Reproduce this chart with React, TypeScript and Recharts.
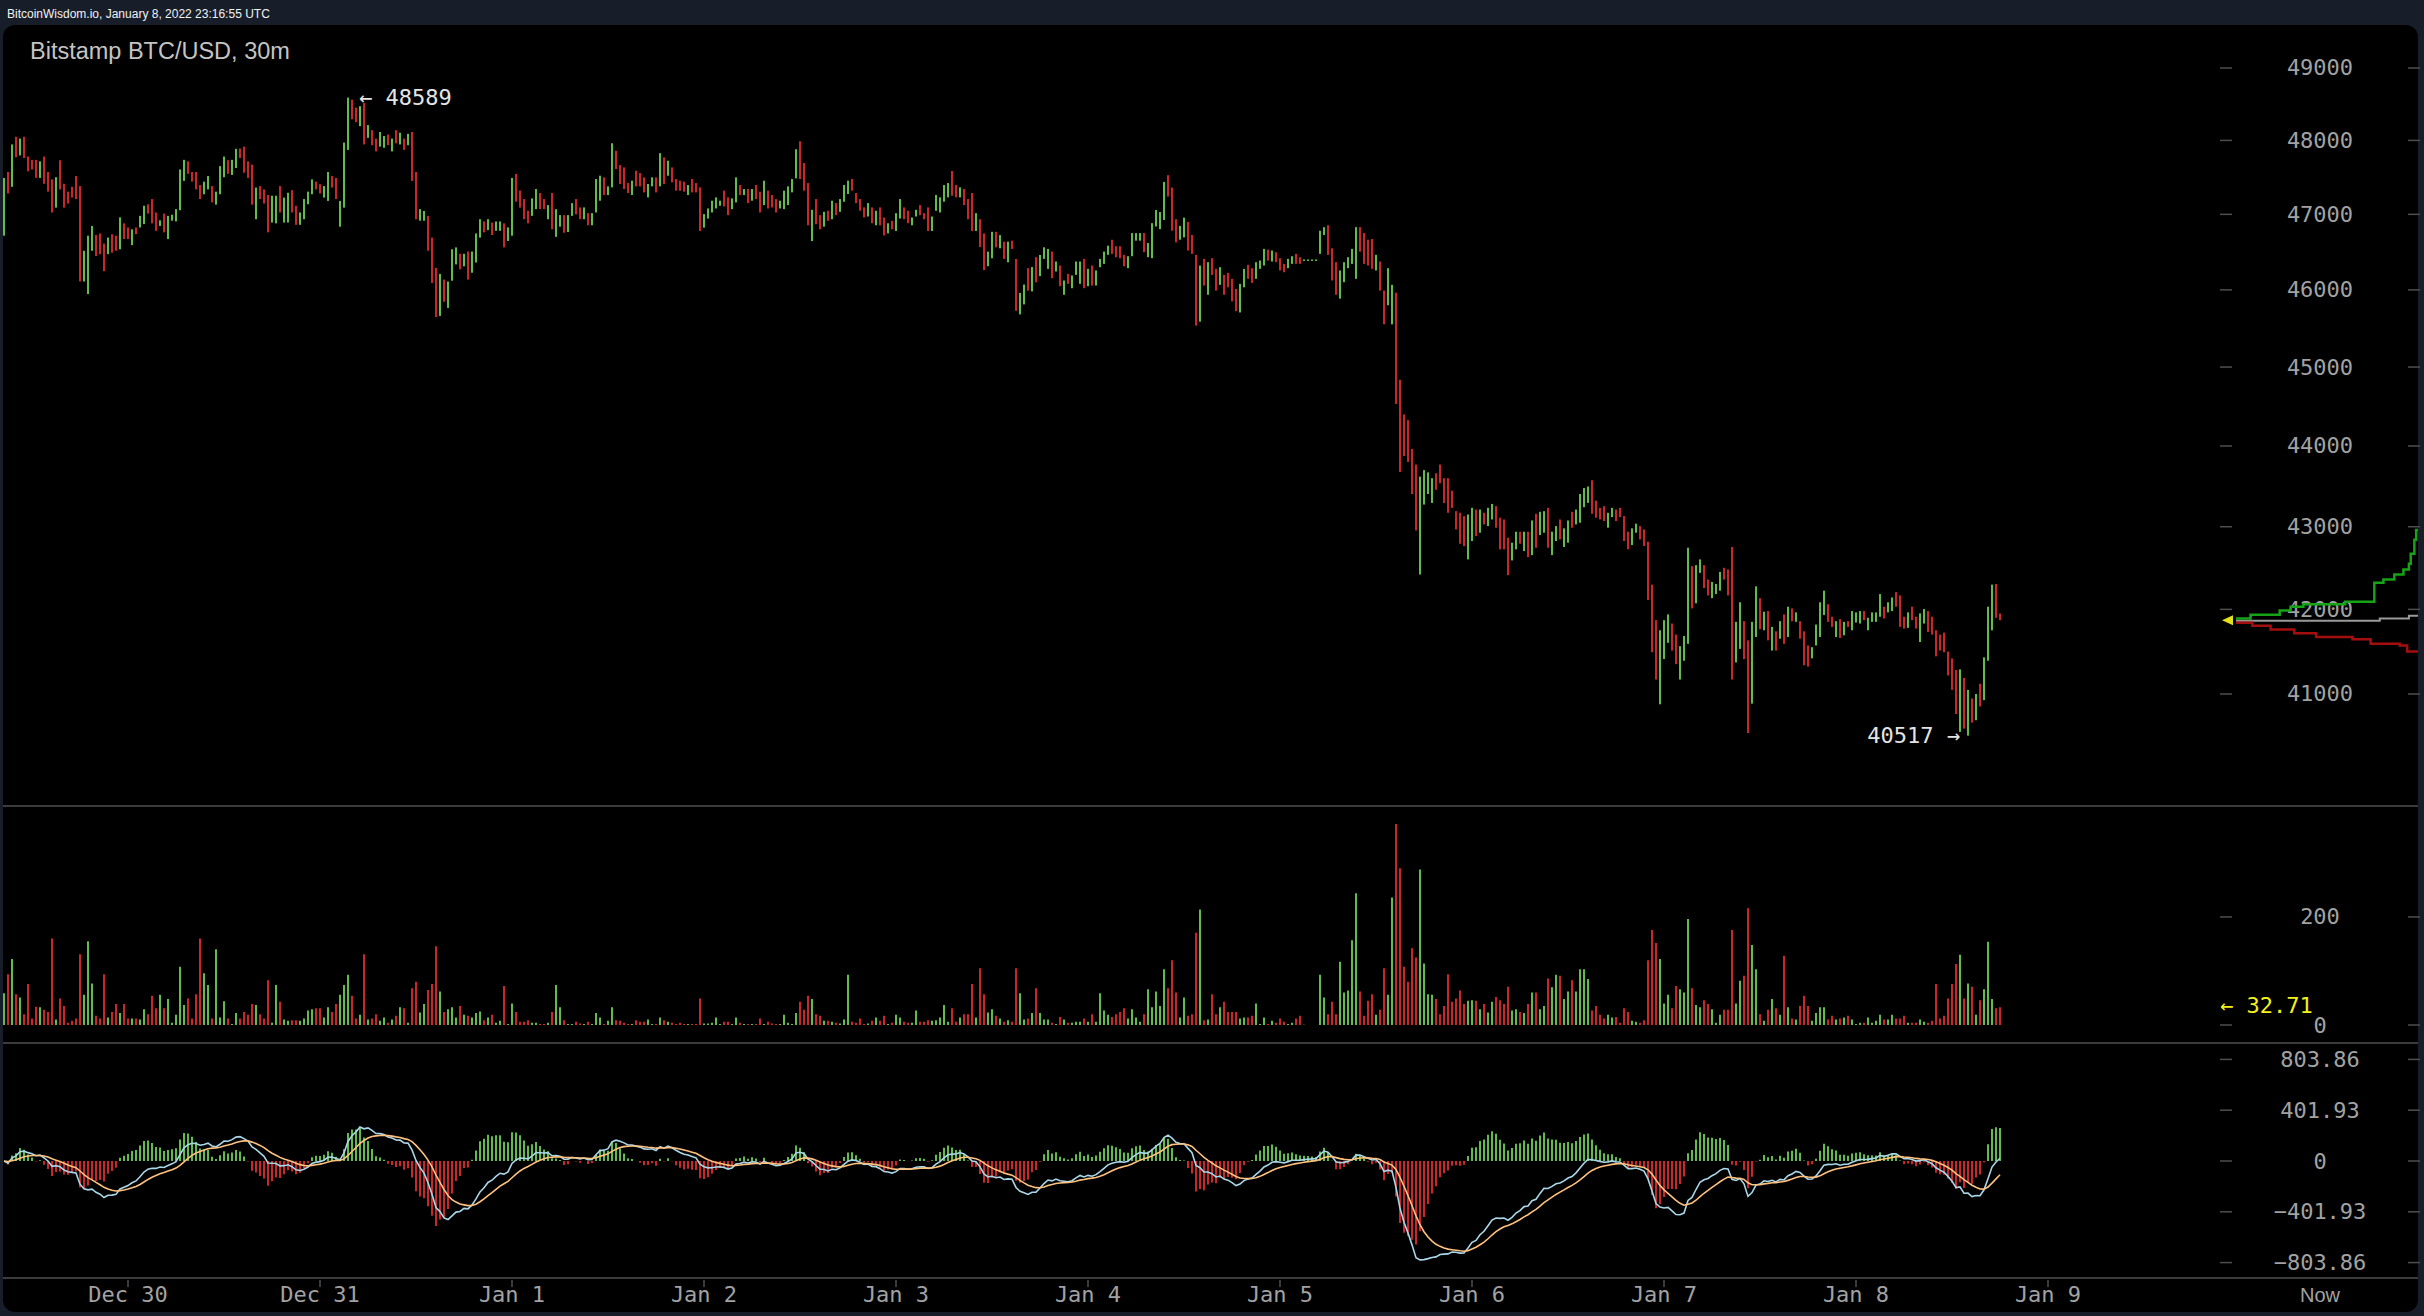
import { ComposedChart, LineChart, Bar, Line, XAxis, YAxis, Cell, ReferenceDot } from 'recharts';

// colours
const BG = '#171d29';
const GREEN = '#62bb4a';
const RED = '#c9272a';
const DIF_COLOR = '#a9d7ea';
const DEA_COLOR = '#ffc27e';
const TICK = '#a2a2a2';
const DASH = '#4e4e4e';
const MONO = '"DejaVu Sans Mono", monospace';
const SANS = '"Liberation Sans", Arial, sans-serif';

// 30m candles, Dec 29 08:30 .. Jan 8 18:00 (UTC-5)
const opens = [
  46715, 47570, 47370, 48050, 47795, 48050, 47780, 47735, 47735, 47490,
  47780, 47570, 47470, 47090, 47730, 47410, 47305, 47370, 47515, 47380,
  46110, 45945, 46515, 46725, 46745, 46610, 46470, 46735, 46715, 46535,
  46880, 46825, 46590, 46825, 46825, 46870, 47135, 47205, 47025, 46845,
  47010, 46670, 46915, 46905, 47055, 47450, 47715, 47570, 47570, 47395,
  47270, 47335, 47380, 47130, 47270, 47500, 47730, 47530, 47625, 47890,
  47915, 47715, 47670, 46935, 47380, 47335, 47260, 46890, 46880, 47380,
  46890, 46890, 47325, 47115, 46860, 46935, 47135, 47270, 47440, 47405,
  47225, 47180, 47515, 47490, 46835, 47090, 47870, 48560, 48450, 48195,
  48515, 48035, 48140, 48025, 47915, 47900, 48080, 47850, 48140, 47945,
  48025, 47935, 48115, 47570, 46915, 46915, 46980, 46690, 46290, 45660,
  46135, 45765, 46120, 46335, 46475, 46310, 46505, 46225, 46360, 46690,
  46905, 46790, 46890, 46780, 46780, 46880, 46645, 46715, 47545, 47320,
  47205, 47048, 46980, 47070, 47286, 47205, 46935, 47286, 46700, 46836,
  46990, 46764, 46980, 47205, 47093, 46935, 47016, 46854, 47025, 47183,
  47498, 47259, 47363, 47858, 47664, 47633, 47421, 47259, 47588, 47556,
  47498, 47228, 47376, 47498, 47376, 47768, 47520, 47633, 47475, 47453,
  47439, 47259, 47475, 47421, 47363, 46823, 46944, 47025, 47079, 47115,
  47318, 47228, 47070, 47160, 47394, 47259, 47340, 47183, 47394, 47304,
  47124, 47318, 47259, 47205, 47079, 47070, 47124, 47295, 47484, 47988,
  47691, 47421, 46643, 47205, 46989, 46836, 47048, 46935, 47151, 47034,
  47169, 47273, 47475, 47286, 47205, 47093, 46971, 47093, 46854, 47093,
  46958, 46746, 46913, 46778, 46944, 47093, 47048, 46854, 46971, 47124,
  47016, 47093, 46778, 47048, 47025, 47169, 47228, 47583, 47394, 47228,
  47340, 47205, 47286, 46778, 46935, 46746, 46311, 46416, 46767, 46548,
  46636, 46363, 46649, 46407, 45680, 45810, 46285, 45980, 46430, 46180,
  46408, 46276, 46504, 46241, 46320, 45936, 46210, 46022, 46197, 46079,
  46408, 46048, 46320, 46057, 46298, 46342, 46461, 46662, 46575, 46575,
  46461, 46285, 46443, 46649, 46649, 46750, 46430, 46417, 46838, 46803,
  46925, 47527, 47360, 46934, 46662, 46693, 46899, 46724, 46461, 45585,
  46408, 45936, 46417, 46276, 46066, 46197, 46224, 46145, 46013, 45705,
  46034, 46329, 46285, 46145, 46276, 46320, 46531, 46373, 46496, 46417,
  46342, 46285, 46342, 46474, 46430, 46400, 46400, 46400, 46400, 46474,
  46724, 46855, 46548, 46364, 45885, 46101, 46285, 46342, 46145, 46829,
  46750, 46662, 46671, 46255, 46373, 45991, 45799, 45551, 45962, 44838,
  44397, 44325, 43963, 43768, 42419, 43272, 43402, 43292, 43659, 43768,
  43598, 43598, 43443, 43191, 43171, 43130, 42602, 42825, 43211, 42927,
  43171, 43008, 43089, 43252, 43110, 43089, 42866, 42589, 42724, 42939,
  42703, 42939, 42654, 43159, 42898, 42927, 43232, 42654, 42825, 43089,
  42752, 42805, 43183, 43028, 43049, 43240, 43293, 43573, 43321, 43232,
  43252, 42988, 43118, 43211, 43232, 43130, 42939, 42776, 42927, 43008,
  42967, 42817, 42297, 41871, 40880, 41410, 41602, 41831, 41699, 41169,
  41390, 41590, 42520, 42073, 42439, 42532, 42358, 42134, 42183, 42224,
  42500, 42480, 42752, 41370, 41530, 41859, 41631, 40888, 41671, 42134,
  41751, 41980, 41510, 41739, 41651, 41940, 41671, 42012, 41851, 41859,
  41739, 41570, 41418, 41570, 41671, 41932, 42061, 41912, 41671, 41883,
  41691, 41859, 41751, 41843, 41831, 41980, 41751, 41851, 41851, 41912,
  42032, 41964, 41980, 42207, 42167, 41912, 41779, 42032, 41912, 41611,
  41831, 41980, 41912, 41751, 41699, 41723, 41498, 41418, 41281, 40560,
  41189, 40517, 40948, 40695, 41120, 40928, 41390, 41751, 42305, 41950,
];

const closes = [
  47490, 47280, 47945, 47770, 48025, 47760, 47580, 47605, 47490, 47715,
  47410, 47305, 47025, 47500, 47335, 47090, 47145, 47225, 47205, 46110,
  46515, 46715, 46845, 46445, 46470, 46245, 46690, 46490, 46515, 46960,
  46670, 46670, 46800, 46735, 46980, 47115, 47010, 46880, 46780, 46920,
  46760, 46980, 46995, 47070, 47605, 47735, 47545, 47440, 47335, 47205,
  47440, 47515, 47160, 47305, 47650, 47780, 47545, 47735, 47885, 47760,
  47560, 47490, 47130, 47360, 47205, 47145, 46760, 47250, 47250, 47025,
  47225, 47290, 47025, 46860, 47025, 47205, 47305, 47470, 47335, 47280,
  47380, 47570, 47360, 47205, 47180, 47970, 48589, 48290, 48250, 48470,
  47945, 48210, 47935, 47850, 48115, 48060, 47935, 48025, 47960, 48105,
  47870, 48090, 47450, 46935, 47070, 47045, 46515, 46090, 45645, 46210,
  45845, 46110, 46535, 46560, 46270, 46475, 46135, 46505, 46745, 46935,
  46760, 46935, 46725, 46905, 46905, 46560, 46825, 47490, 47170, 47090,
  46935, 46880, 47214, 47340, 47070, 47070, 47124, 46800, 47070, 46990,
  46755, 46990, 47150, 47000, 46935, 47093, 46854, 47016, 47475, 47520,
  47259, 47376, 47961, 47610, 47408, 47340, 47286, 47453, 47376, 47376,
  47295, 47408, 47498, 47295, 47826, 47408, 47723, 47430, 47318, 47318,
  47304, 47394, 47295, 47295, 46778, 47003, 47079, 47183, 47228, 47183,
  47106, 46989, 47214, 47498, 47259, 47340, 47151, 47340, 47205, 47025,
  47453, 47079, 47093, 47025, 47183, 47318, 47376, 47475, 47880, 47475,
  47318, 46854, 47061, 46868, 46800, 47034, 46913, 47183, 46989, 47205,
  47394, 47453, 47318, 47151, 47048, 46958, 47151, 46881, 47048, 46854,
  46719, 46881, 46800, 47016, 47205, 46935, 46881, 46958, 47061, 46989,
  46935, 46778, 46971, 47259, 47228, 47394, 47421, 47250, 47228, 47363,
  47124, 46935, 46778, 47016, 46566, 46260, 46504, 46767, 46561, 46723,
  46407, 46636, 46539, 45727, 45960, 46070, 45990, 46300, 46100, 46460,
  46561, 46540, 46153, 46373, 46048, 46123, 46079, 46189, 46373, 46373,
  46022, 46276, 46057, 46255, 46408, 46504, 46583, 46474, 46430, 46417,
  46311, 46443, 46750, 46750, 46750, 46496, 46618, 46882, 47058, 47031,
  47436, 47239, 46781, 46627, 46846, 46956, 46518, 46474, 45534, 46320,
  46057, 46364, 46197, 45991, 46298, 45936, 46034, 45850, 45722, 46079,
  46276, 46145, 46092, 46364, 46386, 46540, 46386, 46518, 46364, 46255,
  46232, 46408, 46443, 46342, 46342, 46400, 46400, 46400, 46400, 46781,
  46829, 46461, 46123, 45936, 46255, 46364, 46430, 46540, 46829, 46504,
  46342, 46320, 46276, 46461, 45991, 45551, 46285, 46066, 44530, 43675,
  43874, 43801, 43402, 42955, 43618, 43699, 43671, 43598, 43455, 43537,
  43292, 43171, 43231, 42967, 42793, 42764, 43150, 43232, 42886, 43211,
  43028, 43232, 43280, 42988, 42724, 42724, 42411, 42805, 42939, 42793,
  42939, 42630, 43077, 42744, 43183, 43191, 42744, 42939, 43008, 42846,
  42980, 43077, 42988, 43211, 43403, 43476, 43496, 43159, 43110, 43089,
  43069, 43171, 43232, 43069, 43118, 42825, 42724, 42980, 43037, 42846,
  42764, 42113, 41490, 41169, 41751, 41871, 41940, 41510, 41350, 41562,
  41683, 42744, 42012, 42532, 42602, 42256, 42167, 42329, 42305, 42451,
  42358, 42167, 41169, 41851, 42085, 41410, 40546, 41851, 42276, 41763,
  41972, 41631, 41791, 41510, 41859, 41590, 42032, 41859, 41964, 41651,
  41338, 41321, 41550, 41819, 42085, 42224, 41851, 41791, 41859, 41659,
  41851, 41791, 41980, 41964, 41980, 41871, 41900, 41964, 41964, 42183,
  41891, 42085, 42142, 42032, 41791, 41771, 41964, 41871, 41771, 41952,
  42004, 41731, 41699, 41442, 41510, 41490, 41217, 41048, 40767, 41289,
  40598, 41048, 40667, 41000, 40855, 41430, 42032, 42297, 41900, 41870,
];

// BTC traded per candle
const volumes = [
  59, 94, 122, 57, 51, 20, 76, 12, 34, 33,
  28, 24, 160, 10, 49, 35, 4, 8, 12, 131,
  56, 155, 77, 17, 12, 94, 14, 24, 39, 22,
  39, 12, 12, 12, 10, 29, 20, 54, 31, 56,
  31, 48, 4, 19, 108, 37, 49, 12, 57, 160,
  96, 74, 12, 140, 14, 44, 12, 2, 22, 12,
  24, 19, 39, 37, 20, 12, 83, 4, 74, 43,
  10, 8, 9, 9, 8, 12, 27, 29, 31, 31,
  14, 33, 24, 39, 56, 74, 93, 54, 12, 19,
  131, 10, 12, 20, 8, 14, 4, 10, 17, 33,
  31, 4, 68, 80, 23, 39, 65, 76, 146, 62,
  24, 29, 33, 14, 35, 19, 17, 14, 22, 25,
  9, 14, 19, 4, 8, 72, 2, 40, 24, 6,
  6, 9, 4, 4, 2, 2, 4, 24, 74, 33,
  9, 2, 2, 6, 3, 2, 6, 2, 22, 14,
  2, 8, 33, 9, 8, 4, 2, 2, 9, 6,
  6, 10, 2, 2, 14, 9, 6, 4, 2, 4,
  2, 2, 2, 2, 49, 3, 3, 4, 14, 2,
  6, 6, 2, 14, 4, 2, 2, 2, 2, 12,
  2, 6, 3, 2, 2, 19, 4, 2, 22, 43,
  28, 54, 48, 20, 17, 8, 8, 6, 4, 3,
  10, 93, 6, 4, 12, 2, 3, 8, 14, 8,
  17, 2, 4, 19, 14, 6, 4, 4, 27, 6,
  6, 9, 8, 9, 14, 37, 6, 31, 6, 14,
  20, 20, 76, 14, 105, 57, 23, 29, 17, 12,
  6, 9, 6, 105, 59, 10, 12, 22, 68, 22,
  10, 10, 4, 2, 15, 10, 4, 4, 6, 6,
  12, 6, 20, 6, 59, 27, 19, 15, 20, 24,
  31, 12, 29, 14, 6, 20, 66, 33, 62, 35,
  103, 68, 120, 60, 14, 51, 17, 20, 171, 214,
  9, 10, 57, 20, 33, 43, 24, 24, 24, 12,
  14, 14, 17, 40, 2, 14, 2, 8, 4, 12,
  6, 2, 4, 12, 17, 0.5, 0, 0, 0, 93,
  51, 20, 43, 20, 117, 60, 64, 157, 244, 62,
  17, 45, 57, 19, 28, 105, 56, 236, 372, 290,
  108, 80, 142, 125, 288, 114, 57, 56, 48, 20,
  35, 94, 43, 49, 64, 39, 45, 46, 45, 29,
  39, 23, 43, 52, 46, 39, 71, 27, 29, 24,
  22, 39, 60, 60, 29, 35, 86, 70, 93, 91,
  48, 62, 83, 62, 103, 103, 85, 27, 35, 19,
  12, 19, 14, 15, 4, 31, 24, 8, 6, 4,
  9, 120, 176, 152, 122, 40, 56, 31, 72, 66,
  60, 196, 68, 37, 33, 46, 39, 29, 4, 19,
  28, 28, 176, 40, 82, 91, 216, 148, 103, 20,
  8, 28, 48, 31, 19, 128, 33, 12, 10, 35,
  54, 35, 8, 22, 33, 33, 10, 17, 10, 12,
  14, 17, 10, 2, 4, 4, 14, 4, 8, 19,
  10, 10, 19, 12, 12, 17, 4, 4, 4, 10,
  6, 4, 8, 76, 12, 17, 49, 76, 113, 130,
  49, 77, 71, 19, 46, 66, 154, 48, 31, 32.71,
];

const dayTicks = [31, 79, 127, 175, 223, 271, 319, 367, 415, 463, 511];
const dayLabels = ['Dec 30', 'Dec 31', 'Jan 1', 'Jan 2', 'Jan 3', 'Jan 4', 'Jan 5', 'Jan 6', 'Jan 7', 'Jan 8', 'Jan 9'];
const priceTicks = [41000, 42000, 43000, 44000, 45000, 46000, 47000, 48000, 49000];
const volumeTicks = [0, 200];
const macdTicks = [-803.86, -401.93, 0, 401.93, 803.86];

const highIndex = 86;
const highPrice = 48589;
const lowIndex = 491;
const lowPrice = 40517;

// order book depth on the right edge (cumulative amount, price)
const askDepth = [
  { x: 0, v: 41890 }, { x: 8, v: 41935 }, { x: 24, v: 41985 }, { x: 30, v: 42030 },
  { x: 37, v: 42060 }, { x: 60, v: 42090 }, { x: 76, v: 42320 }, { x: 81, v: 42360 },
  { x: 87, v: 42420 }, { x: 92, v: 42480 }, { x: 95, v: 42550 }, { x: 96, v: 42670 },
  { x: 98, v: 42840 }, { x: 99, v: 42960 }, { x: 100, v: 42960 },
];
const bidDepth = [
  { x: 0, v: 41840 }, { x: 9, v: 41805 }, { x: 19, v: 41760 }, { x: 32, v: 41715 },
  { x: 44, v: 41670 }, { x: 64, v: 41645 }, { x: 74, v: 41590 }, { x: 90, v: 41570 },
  { x: 94, v: 41500 }, { x: 100, v: 41500 },
];
const midDepth = [
  { x: 0, v: 41865 }, { x: 79, v: 41890 }, { x: 95, v: 41925 }, { x: 100, v: 41925 },
];

// layout
const W = 2424;
const AX = 2216; // left edge of the right-hand scale
const AXIS_W = W - AX;
const X_MAX = 553;
const PRICE_MIN = 39781;
const PRICE_MAX = 49533;
const VOL_MAX = 398;
const MACD_MAX = 910;

const ema = (src: number[], n: number) => {
  const k = 2 / (n + 1);
  const out: number[] = [];
  src.forEach((v, i) => out.push(i === 0 ? v : out[i - 1] + k * (v - out[i - 1])));
  return out;
};

const ema12 = ema(closes, 12);
const ema26 = ema(closes, 26);
const dif = closes.map((_, i) => ema12[i] - ema26[i]);
const dea = ema(dif, 9);

const rows = closes.map((c, i) => ({
  i,
  range: [Math.min(opens[i], c), Math.max(opens[i], c)],
  up: c >= opens[i],
  vol: volumes[i],
  dif: dif[i],
  dea: dea[i],
  hist: 2 * (dif[i] - dea[i]),
}));

const lastClose = closes[closes.length - 1];
const lastVolume = volumes[volumes.length - 1];

const CandleShape = (props: any) => {
  const { x, y, width, height, payload } = props;
  const h = Math.abs(height);
  const top = height < 0 ? y + height : y;
  return <rect x={x} y={top} width={width} height={Math.max(h, 1.5)} fill={payload.up ? GREEN : RED} />;
};

const axisTick = (format: (v: number) => string) => (props: any) => {
  const { y, payload } = props;
  return (
    <g>
      <line x1={AX + 4} x2={AX + 16} y1={y} y2={y} stroke={DASH} strokeWidth={1.5} />
      <text x={AX + 104} y={y} textAnchor="middle" dominantBaseline="central" fill={TICK} fontSize={22} fontFamily={MONO}>
        {format(payload.value)}
      </text>
      <line x1={AX + 192} x2={AX + 204} y1={y} y2={y} stroke={DASH} strokeWidth={1.5} />
    </g>
  );
};

const fmtPlain = (v: number) => String(v);
const fmtMacd = (v: number) => (v === 0 ? '0' : v < 0 ? `\u2212${Math.abs(v).toFixed(2)}` : v.toFixed(2));

const DayTick = (props: any) => {
  const { x, payload } = props;
  const k = dayTicks.indexOf(payload.value);
  return (
    <g>
      <line x1={x} x2={x} y1={237} y2={244} stroke={DASH} strokeWidth={1.5} />
      <text x={x} y={251} textAnchor="middle" dominantBaseline="central" fill={TICK} fontSize={22} fontFamily={MONO}>
        {dayLabels[k]}
      </text>
    </g>
  );
};

const Separator = ({ top }: { top: number }) => (
  <div style={{ position: 'absolute', left: 3, top, width: 2415, height: 2, background: '#3b3b3b' }} />
);

export default function App() {
  return (
    <div style={{ position: 'relative', width: W, height: 1316, background: BG, overflow: 'hidden' }}>
      <style>{`body{margin:0;background:${BG};}`}</style>
      <div style={{ position: 'absolute', left: 7, top: 8, fontFamily: SANS, fontSize: 12, lineHeight: '12px', color: '#f2f2f2' }}>
        BitcoinWisdom.io, January 8, 2022 23:16:55 UTC
      </div>
      <div style={{ position: 'absolute', left: 3, top: 25, width: 2415, height: 1287, background: '#000', borderRadius: 12 }} />
      <div style={{ position: 'absolute', left: 30, top: 40, fontFamily: SANS, fontSize: 23.5, lineHeight: '23.5px', color: '#c4c4c4' }}>
        Bitstamp BTC/USD, 30m
      </div>

      {/* price */}
      <div style={{ position: 'absolute', left: 0, top: 0 }}>
        <ComposedChart width={W} height={806} data={rows} margin={{ top: 30, right: 0, bottom: 6, left: 4 }}>
          <XAxis type="number" dataKey="i" domain={[0, X_MAX]} hide />
          <YAxis
            orientation="right"
            scale="log"
            domain={[PRICE_MIN, PRICE_MAX]}
            allowDataOverflow
            ticks={priceTicks}
            width={AXIS_W}
            axisLine={false}
            tickLine={false}
            tick={axisTick(fmtPlain)}
          />
          <Bar dataKey="range" barSize={2} isAnimationActive={false} shape={<CandleShape />} />
          <ReferenceDot
            x={highIndex}
            y={highPrice}
            shape={(p: any) => (
              <text x={p.cx + 11} y={p.cy} dominantBaseline="central" fill="#e4e4e4" fontSize={22} fontFamily={MONO}>
                {`\u2190 ${highPrice}`}
              </text>
            )}
          />
          <ReferenceDot
            x={lowIndex}
            y={lowPrice}
            shape={(p: any) => (
              <text x={p.cx - 8} y={p.cy} textAnchor="end" dominantBaseline="central" fill="#e4e4e4" fontSize={22} fontFamily={MONO}>
                {`${lowPrice} \u2192`}
              </text>
            )}
          />
          <ReferenceDot
            x={X_MAX}
            y={lastClose}
            shape={(p: any) => (
              <polygon points={`${p.cx + 6},${p.cy} ${p.cx + 17},${p.cy - 5} ${p.cx + 17},${p.cy + 5}`} fill="#e3e01c" />
            )}
          />
        </ComposedChart>
      </div>

      {/* depth lines in the price scale */}
      <div style={{ position: 'absolute', left: 2236, top: 0 }}>
        <LineChart width={182} height={806} margin={{ top: 30, right: 0, bottom: 6, left: 0 }}>
          <XAxis type="number" dataKey="x" domain={[0, 100]} hide />
          <YAxis scale="log" domain={[PRICE_MIN, PRICE_MAX]} allowDataOverflow hide />
          <Line data={midDepth} dataKey="v" type="stepAfter" stroke="#9a9a9a" strokeWidth={2} dot={false} isAnimationActive={false} />
          <Line data={bidDepth} dataKey="v" type="stepAfter" stroke="#a50e0e" strokeWidth={2.5} dot={false} isAnimationActive={false} />
          <Line data={askDepth} dataKey="v" type="stepAfter" stroke="#17a317" strokeWidth={2.5} dot={false} isAnimationActive={false} />
        </LineChart>
      </div>

      <Separator top={805} />

      {/* volume */}
      <div style={{ position: 'absolute', left: 0, top: 806 }}>
        <ComposedChart width={W} height={237} data={rows} margin={{ top: 4, right: 0, bottom: 18, left: 4 }}>
          <XAxis type="number" dataKey="i" domain={[0, X_MAX]} hide />
          <YAxis
            orientation="right"
            domain={[0, VOL_MAX]}
            allowDataOverflow
            ticks={volumeTicks}
            width={AXIS_W}
            axisLine={false}
            tickLine={false}
            tick={axisTick(fmtPlain)}
          />
          <Bar dataKey="vol" barSize={2} isAnimationActive={false}>
            {rows.map((r) => (
              <Cell key={`v-${r.i}`} fill={r.up ? GREEN : RED} />
            ))}
          </Bar>
          <ReferenceDot
            x={X_MAX}
            y={lastVolume}
            shape={(p: any) => (
              <text x={p.cx + 4} y={p.cy - 2} dominantBaseline="central" fill="#f4f21a" fontSize={22} fontFamily={MONO}>
                {`\u2190 ${lastVolume.toFixed(2)}`}
              </text>
            )}
          />
        </ComposedChart>
      </div>

      <Separator top={1042} />

      {/* MACD */}
      <div style={{ position: 'absolute', left: 0, top: 1043 }}>
        <ComposedChart width={W} height={270} data={rows} margin={{ top: 3, right: 0, bottom: 0, left: 4 }}>
          <XAxis
            type="number"
            dataKey="i"
            domain={[0, X_MAX]}
            ticks={dayTicks}
            interval={0}
            height={37}
            axisLine={false}
            tickLine={false}
            tick={<DayTick />}
          />
          <YAxis
            orientation="right"
            domain={[-MACD_MAX, MACD_MAX]}
            allowDataOverflow
            ticks={macdTicks}
            width={AXIS_W}
            axisLine={false}
            tickLine={false}
            tick={axisTick(fmtMacd)}
          />
          <Bar dataKey="hist" barSize={2} isAnimationActive={false}>
            {rows.map((r) => (
              <Cell key={`h-${r.i}`} fill={r.hist >= 0 ? GREEN : RED} />
            ))}
          </Bar>
          <Line dataKey="dif" type="linear" stroke={DIF_COLOR} strokeWidth={1.6} dot={false} isAnimationActive={false} />
          <Line dataKey="dea" type="linear" stroke={DEA_COLOR} strokeWidth={1.6} dot={false} isAnimationActive={false} />
        </ComposedChart>
      </div>

      <Separator top={1277} />

      <div style={{ position: 'absolute', left: 2290, top: 1285, width: 60, textAlign: 'center', fontFamily: SANS, fontSize: 20, lineHeight: '20px', color: TICK }}>
        Now
      </div>
    </div>
  );
}
